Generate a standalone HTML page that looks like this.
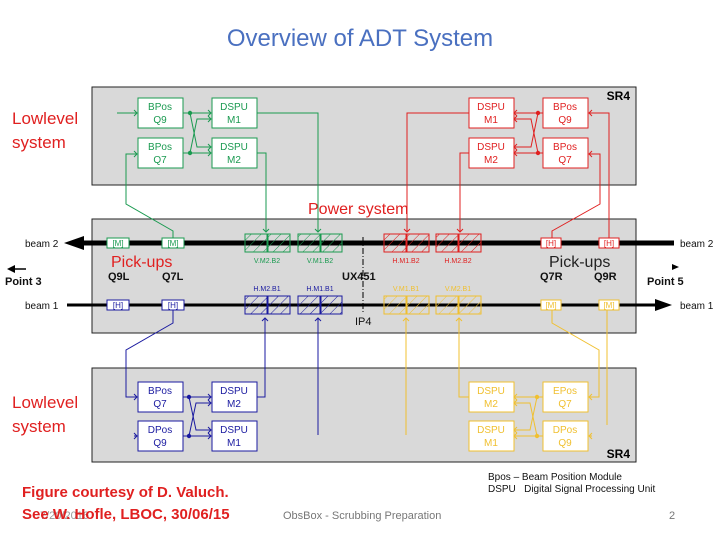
<!DOCTYPE html>
<html><head><meta charset="utf-8"><style>
html,body{margin:0;padding:0;background:#fff;width:720px;height:540px;overflow:hidden}
svg{display:block}
text{font-family:"Liberation Sans",sans-serif}
</style></head><body>
<svg width="720" height="540" viewBox="0 0 720 540" xmlns="http://www.w3.org/2000/svg">
<defs>
<pattern id="hg" width="7" height="7" patternUnits="userSpaceOnUse" patternTransform="rotate(45)"><line x1="0" y1="0" x2="0" y2="7" stroke="#1a9a50" stroke-width="1"/></pattern>
<pattern id="hr" width="7" height="7" patternUnits="userSpaceOnUse" patternTransform="rotate(45)"><line x1="0" y1="0" x2="0" y2="7" stroke="#e02020" stroke-width="1"/></pattern>
<pattern id="hb" width="7" height="7" patternUnits="userSpaceOnUse" patternTransform="rotate(45)"><line x1="0" y1="0" x2="0" y2="7" stroke="#1a1aa0" stroke-width="1"/></pattern>
<pattern id="hy" width="7" height="7" patternUnits="userSpaceOnUse" patternTransform="rotate(45)"><line x1="0" y1="0" x2="0" y2="7" stroke="#f0c030" stroke-width="1"/></pattern>
</defs>

<text x="360" y="46" text-anchor="middle" font-family="Liberation Sans" font-size="24" fill="#4a70c0">Overview of ADT System</text>

<!-- panels -->
<rect x="92" y="87" width="544" height="98" fill="#d9d9d9" stroke="#222" stroke-width="1"/>
<rect x="92" y="219" width="544" height="114" fill="#d9d9d9" stroke="#222" stroke-width="1"/>
<rect x="92" y="368" width="544" height="94" fill="#d9d9d9" stroke="#222" stroke-width="1"/>
<text x="630" y="100" text-anchor="end" font-size="12" font-weight="bold">SR4</text>
<text x="630" y="458" text-anchor="end" font-size="12" font-weight="bold">SR4</text>

<g font-size="17" fill="#e02020">
<text x="12" y="124">Lowlevel</text><text x="12" y="148">system</text>
<text x="12" y="408">Lowlevel</text><text x="12" y="432">system</text>
<text x="308" y="214" font-size="16">Power system</text>
<text x="111" y="267" font-size="16">Pick-ups</text>
</g>
<text x="549" y="267" font-size="16" fill="#222">Pick-ups</text>

<!-- beams -->
<line x1="75" y1="243" x2="674" y2="243" stroke="#000" stroke-width="5"/>
<polygon points="64,243 84,236 84,250" fill="#000"/>
<line x1="67" y1="305" x2="660" y2="305" stroke="#000" stroke-width="3"/>
<polygon points="672,305 655,299 655,311" fill="#000"/>
<g font-size="10" fill="#111">
<text x="25" y="247">beam 2</text><text x="680" y="247">beam 2</text>
<text x="25" y="309">beam 1</text><text x="680" y="309">beam 1</text>
</g>
<g font-size="11" font-weight="bold" fill="#111">
<text x="5" y="285">Point 3</text><text x="647" y="285">Point 5</text>
<text x="108" y="280">Q9L</text><text x="162" y="280">Q7L</text>
<text x="342" y="280">UX451</text>
<text x="540" y="280">Q7R</text><text x="594" y="280">Q9R</text>
</g>
<text x="355" y="325" font-size="11" fill="#111">IP4</text>
<line x1="11" y1="269" x2="26" y2="269" stroke="#000" stroke-width="1.5"/><polygon points="7,269 15,265 15,273" fill="#000"/>
<polygon points="672,264 679,267 672,270" fill="#000"/>
<line x1="363" y1="237" x2="363" y2="314" stroke="#000" stroke-width="1" stroke-dasharray="6,2,1,2"/>

<!-- pickups -->
<g font-size="8" text-anchor="middle">
<rect x="107" y="238" width="22" height="10" fill="#fff" stroke="#1a9a50"/><text x="118" y="246" fill="#1a9a50">[M]</text>
<rect x="162" y="238" width="22" height="10" fill="#fff" stroke="#1a9a50"/><text x="173" y="246" fill="#1a9a50">[M]</text>
<rect x="541" y="238" width="20" height="10" fill="#fff" stroke="#e02020"/><text x="551" y="246" fill="#e02020">[H]</text>
<rect x="599" y="238" width="20" height="10" fill="#fff" stroke="#e02020"/><text x="609" y="246" fill="#e02020">[H]</text>
<rect x="107" y="300" width="22" height="10" fill="#fff" stroke="#1a1aa0"/><text x="118" y="308" fill="#1a1aa0">[H]</text>
<rect x="162" y="300" width="22" height="10" fill="#fff" stroke="#1a1aa0"/><text x="173" y="308" fill="#1a1aa0">[H]</text>
<rect x="541" y="300" width="20" height="10" fill="#fff" stroke="#f0c030"/><text x="551" y="308" fill="#f0c030">[M]</text>
<rect x="599" y="300" width="20" height="10" fill="#fff" stroke="#f0c030"/><text x="609" y="308" fill="#f0c030">[M]</text>
</g>

<!-- hatched kickers -->
<g stroke-width="1">
<rect x="245" y="234" width="22" height="18" fill="url(#hg)" stroke="#1a9a50"/><rect x="268" y="234" width="22" height="18" fill="url(#hg)" stroke="#1a9a50"/>
<rect x="298" y="234" width="22" height="18" fill="url(#hg)" stroke="#1a9a50"/><rect x="321" y="234" width="21" height="18" fill="url(#hg)" stroke="#1a9a50"/>
<rect x="384" y="234" width="22" height="18" fill="url(#hr)" stroke="#e02020"/><rect x="407" y="234" width="22" height="18" fill="url(#hr)" stroke="#e02020"/>
<rect x="436" y="234" width="22" height="18" fill="url(#hr)" stroke="#e02020"/><rect x="459" y="234" width="22" height="18" fill="url(#hr)" stroke="#e02020"/>
<rect x="245" y="296" width="22" height="18" fill="url(#hb)" stroke="#1a1aa0"/><rect x="268" y="296" width="22" height="18" fill="url(#hb)" stroke="#1a1aa0"/>
<rect x="298" y="296" width="22" height="18" fill="url(#hb)" stroke="#1a1aa0"/><rect x="321" y="296" width="21" height="18" fill="url(#hb)" stroke="#1a1aa0"/>
<rect x="384" y="296" width="22" height="18" fill="url(#hy)" stroke="#f0c030"/><rect x="407" y="296" width="22" height="18" fill="url(#hy)" stroke="#f0c030"/>
<rect x="436" y="296" width="22" height="18" fill="url(#hy)" stroke="#f0c030"/><rect x="459" y="296" width="22" height="18" fill="url(#hy)" stroke="#f0c030"/>
</g>
<g font-size="7" text-anchor="middle">
<text x="267" y="263" fill="#1a9a50">V.M2.B2</text><text x="320" y="263" fill="#1a9a50">V.M1.B2</text>
<text x="406" y="263" fill="#e02020">H.M1.B2</text><text x="458" y="263" fill="#e02020">H.M2.B2</text>
<text x="267" y="291" fill="#1a1aa0">H.M2.B1</text><text x="320" y="291" fill="#1a1aa0">H.M1.B1</text>
<text x="406" y="291" fill="#f0c030">V.M1.B1</text><text x="458" y="291" fill="#f0c030">V.M2.B1</text>
</g>

<!-- module boxes -->
<g font-size="10" text-anchor="middle">
<g fill="#fff" stroke="#1a9a50"><rect x="138" y="98" width="45" height="30"/><rect x="212" y="98" width="45" height="30"/><rect x="138" y="138" width="45" height="30"/><rect x="212" y="138" width="45" height="30"/></g>
<g fill="#1a9a50"><text x="160" y="110">BPos</text><text x="160" y="123">Q9</text><text x="234" y="110">DSPU</text><text x="234" y="123">M1</text><text x="160" y="150">BPos</text><text x="160" y="163">Q7</text><text x="234" y="150">DSPU</text><text x="234" y="163">M2</text></g>
<g fill="#fff" stroke="#e02020"><rect x="469" y="98" width="45" height="30"/><rect x="543" y="98" width="45" height="30"/><rect x="469" y="138" width="45" height="30"/><rect x="543" y="138" width="45" height="30"/></g>
<g fill="#e02020"><text x="491" y="110">DSPU</text><text x="491" y="123">M1</text><text x="565" y="110">BPos</text><text x="565" y="123">Q9</text><text x="491" y="150">DSPU</text><text x="491" y="163">M2</text><text x="565" y="150">BPos</text><text x="565" y="163">Q7</text></g>
<g fill="#fff" stroke="#1a1aa0"><rect x="138" y="382" width="45" height="30"/><rect x="212" y="382" width="45" height="30"/><rect x="138" y="421" width="45" height="30"/><rect x="212" y="421" width="45" height="30"/></g>
<g fill="#1a1aa0"><text x="160" y="394">BPos</text><text x="160" y="407">Q7</text><text x="234" y="394">DSPU</text><text x="234" y="407">M2</text><text x="160" y="433">DPos</text><text x="160" y="446">Q9</text><text x="234" y="433">DSPU</text><text x="234" y="446">M1</text></g>
<g fill="#fff" stroke="#f0c030"><rect x="469" y="382" width="45" height="30"/><rect x="543" y="382" width="45" height="30"/><rect x="469" y="421" width="45" height="30"/><rect x="543" y="421" width="45" height="30"/></g>
<g fill="#f0c030"><text x="491" y="394">DSPU</text><text x="491" y="407">M2</text><text x="565" y="394">EPos</text><text x="565" y="407">Q7</text><text x="491" y="433">DSPU</text><text x="491" y="446">M1</text><text x="565" y="433">DPos</text><text x="565" y="446">Q9</text></g>
</g>

<!-- green connectors -->
<g fill="none" stroke="#1a9a50" stroke-width="1">
<path d="M117 113 H137"/><path d="M183 113 H211"/><path d="M183 153 H211"/>
<path d="M190 113 L197 147 H211"/><path d="M190 153 L197 119 H211"/>
<path d="M257 113 H318 V232"/><path d="M257 153 H266 V232"/>
<path d="M173 238 V231 L126 204 V154 H137"/>
<path d="M134 110 L137 113 L134 116 M208 110 L211 113 L208 116 M208 116 L211 119 L208 122 M208 144 L211 147 L208 150 M208 150 L211 153 L208 156 M134 151 L137 154 L134 157 M315 229 L318 232 L321 229 M263 229 L266 232 L269 229"/>
</g>
<circle cx="190" cy="113" r="2.2" fill="#1a9a50"/><circle cx="190" cy="153" r="2.2" fill="#1a9a50"/>

<!-- red connectors -->
<g fill="none" stroke="#e02020" stroke-width="1">
<path d="M543 113 H514"/><path d="M543 153 H514"/>
<path d="M538 113 L531 147 H514"/><path d="M538 153 L531 119 H514"/>
<path d="M469 113 H407 V232"/><path d="M469 153 H460 V232"/>
<path d="M552 238 V231 L600 204 V154 H589"/>
<path d="M609 238 V113 H589"/>
<path d="M517 110 L514 113 L517 116 M517 116 L514 119 L517 122 M517 144 L514 147 L517 150 M517 150 L514 153 L517 156 M592 110 L589 113 L592 116 M592 151 L589 154 L592 157 M404 229 L407 232 L410 229 M457 229 L460 232 L463 229"/>
</g>
<circle cx="538" cy="113" r="2.2" fill="#e02020"/><circle cx="538" cy="153" r="2.2" fill="#e02020"/>

<!-- blue connectors -->
<g fill="none" stroke="#1a1aa0" stroke-width="1">
<path d="M173 310 V323 L126 350 V397 H137"/><path d="M134 436 H137"/>
<path d="M183 397 H211"/><path d="M183 436 H211"/>
<path d="M189 397 L196 430 H211"/><path d="M189 436 L196 403 H211"/>
<path d="M257 397 H265 V318"/><path d="M318 318 V435"/>
<path d="M134 394 L137 397 L134 400 M134 433 L137 436 L134 439 M208 394 L211 397 L208 400 M208 400 L211 403 L208 406 M208 427 L211 430 L208 433 M208 433 L211 436 L208 439 M262 321 L265 318 L268 321 M315 321 L318 318 L321 321"/>
</g>
<circle cx="189" cy="397" r="2.2" fill="#1a1aa0"/><circle cx="189" cy="436" r="2.2" fill="#1a1aa0"/>

<!-- yellow connectors -->
<g fill="none" stroke="#f0c030" stroke-width="1">
<path d="M543 397 H514"/><path d="M543 436 H514"/>
<path d="M537 397 L530 430 H514"/><path d="M537 436 L530 403 H514"/>
<path d="M469 397 H459 V318"/><path d="M406 318 V435"/>
<path d="M552 310 V323 L599 350 V397 H589"/>
<path d="M607 310 V425"/><path d="M592 436 H589"/>
<path d="M517 394 L514 397 L517 400 M517 400 L514 403 L517 406 M517 427 L514 430 L517 433 M517 433 L514 436 L517 439 M592 394 L589 397 L592 400 M592 433 L589 436 L592 439 M456 321 L459 318 L462 321 M403 321 L406 318 L409 321"/>
</g>
<circle cx="537" cy="397" r="2.2" fill="#f0c030"/><circle cx="537" cy="436" r="2.2" fill="#f0c030"/>

<!-- legend & footer -->
<g font-size="10" fill="#111">
<text x="488" y="480">Bpos – Beam Position Module</text>
<text x="488" y="492">DSPU&#160;&#160;&#160;Digital Signal Processing Unit</text>
</g>
<text x="40" y="519" font-size="11" fill="#999">7/20/2016</text>
<g font-size="15" font-weight="bold" fill="#e02020">
<text x="22" y="497">Figure courtesy of D. Valuch.</text>
<text x="22" y="519">See W. Hofle, LBOC, 30/06/15</text>
</g>
<text x="283" y="519" font-size="11" fill="#777">ObsBox - Scrubbing Preparation</text>
<text x="669" y="519" font-size="11" fill="#777">2</text>
</svg>
</body></html>
